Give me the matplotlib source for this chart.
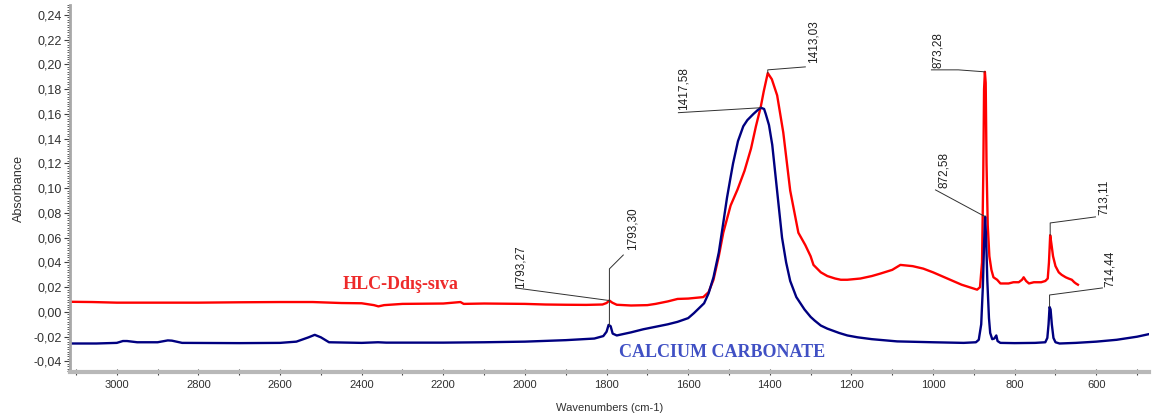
import numpy as np
import matplotlib
matplotlib.use('Agg')
import matplotlib.pyplot as plt
from matplotlib.ticker import MultipleLocator, FuncFormatter

# HLC-Ddis-siva sample (red)
wn_hlc = [3114, 3060, 3000, 2900, 2800, 2700, 2600, 2520, 2450, 2400, 2370, 2359, 2345,
          2300, 2200, 2158, 2150, 2100, 2000, 1950, 1900, 1850, 1810, 1800, 1793, 1786,
          1775, 1740, 1700, 1680, 1650, 1626, 1600, 1563, 1550, 1538, 1525, 1514, 1496,
          1479, 1462, 1446, 1434, 1422, 1415, 1405, 1395, 1382, 1367, 1350, 1330, 1313,
          1300, 1293, 1275, 1259, 1240, 1226, 1210, 1178, 1150, 1129, 1100, 1080, 1050,
          1024, 1000, 965, 930, 892, 885, 880, 877, 875, 873, 871, 869, 866, 862, 857,
          852, 843, 835, 815, 803, 790, 782, 778, 772, 765, 753, 735, 725, 719, 716, 713,
          710, 706, 700, 692, 685, 675, 668, 660, 654, 650, 645]
abs_hlc = [0.0082, 0.0080, 0.0075, 0.0075, 0.0075, 0.0078, 0.0080, 0.0080, 0.0072, 0.0070,
           0.0055, 0.0045, 0.0055, 0.0065, 0.0068, 0.0080, 0.0065, 0.0068, 0.0065, 0.0060,
           0.0058, 0.0057, 0.0060, 0.0072, 0.0092, 0.0075, 0.0058, 0.0052, 0.0055, 0.0065,
           0.0085, 0.0105, 0.0108, 0.0120, 0.0160, 0.0260, 0.0450, 0.0640, 0.0860, 0.0990,
           0.1140, 0.1320, 0.1500, 0.1660, 0.1780, 0.1930, 0.1880, 0.1750, 0.1450, 0.0980,
           0.0640, 0.0540, 0.0450, 0.0380, 0.0320, 0.0290, 0.0270, 0.0260, 0.0260, 0.0270,
           0.0290, 0.0310, 0.0340, 0.0380, 0.0370, 0.0350, 0.0320, 0.0270, 0.0220, 0.0180,
           0.0200, 0.0400, 0.1100, 0.1800, 0.1940, 0.1850, 0.1200, 0.0700, 0.0450, 0.0340,
           0.0280, 0.0260, 0.0230, 0.0230, 0.0240, 0.0240, 0.0260, 0.0280, 0.0250, 0.0230,
           0.0240, 0.0240, 0.0250, 0.0270, 0.0400, 0.0620, 0.0550, 0.0450, 0.0370, 0.0320,
           0.0300, 0.0280, 0.0270, 0.0260, 0.0240, 0.0230, 0.0220]

# calcium carbonate reference (navy)
wn_caco3 = [3114, 3050, 3000, 2985, 2975, 2950, 2900, 2875, 2865, 2840, 2700, 2600, 2560,
            2530, 2515, 2500, 2480, 2400, 2360, 2340, 2200, 2100, 2000, 1900, 1830, 1808,
            1800, 1795, 1790, 1785, 1775, 1740, 1710, 1680, 1650, 1626, 1600, 1586, 1561,
            1550, 1538, 1525, 1514, 1505, 1496, 1490, 1478, 1465, 1455, 1446, 1440, 1430,
            1422, 1414, 1410, 1402, 1394, 1386, 1378, 1370, 1360, 1350, 1335, 1315, 1300,
            1290, 1275, 1259, 1230, 1210, 1185, 1150, 1088, 1000, 925, 895, 888, 882, 878,
            875, 872.5, 870, 867, 863, 860, 855, 850, 845, 842, 835, 800, 750, 725, 720, 717,
            714.5, 712, 709, 705, 700, 690, 650, 600, 550, 500, 472]
abs_caco3 = [-0.0255, -0.0255, -0.0250, -0.0235, -0.0235, -0.0245, -0.0245, -0.0230, -0.0232,
             -0.0250, -0.0252, -0.0250, -0.0240, -0.0205, -0.0185, -0.0205, -0.0245, -0.0250,
             -0.0245, -0.0248, -0.0248, -0.0245, -0.0240, -0.0228, -0.0215, -0.0195, -0.0160,
             -0.0105, -0.0115, -0.0175, -0.0190, -0.0165, -0.0140, -0.0120, -0.0100, -0.0080,
             -0.0050, -0.0010, 0.0070, 0.0150, 0.0280, 0.0480, 0.0720, 0.0920, 0.1090, 0.1200,
             0.1380, 0.1500, 0.1550, 0.1580, 0.1600, 0.1630, 0.1650, 0.1640, 0.1600, 0.1510,
             0.1350, 0.1100, 0.0850, 0.0600, 0.0400, 0.0250, 0.0120, 0.0020, -0.0040, -0.0070,
             -0.0110, -0.0135, -0.0170, -0.0190, -0.0205, -0.0220, -0.0238, -0.0245, -0.0250,
             -0.0245, -0.0225, -0.0100, 0.0200, 0.0550, 0.0770, 0.0600, 0.0250, -0.0050,
             -0.0170, -0.0220, -0.0215, -0.0190, -0.0235, -0.0250, -0.0252, -0.0250, -0.0245,
             -0.0210, -0.0100, 0.0040, 0.0020, -0.0100, -0.0210, -0.0245, -0.0255, -0.0250,
             -0.0240, -0.0225, -0.0200, -0.0180]

# peak labels: text, series, peak position
peak_labels = ['1793,27', '1793,30', '1417,58', '1413,03', '873,28', '872,58', '713,11', '714,44']
peak_series = ['hlc', 'caco3', 'caco3', 'hlc', 'hlc', 'caco3', 'hlc', 'caco3']
peak_wn = [1793, 1793, 1422, 1405, 873, 872.5, 713, 714.5]

# leader line layout (data units): text anchor and optional knee
text_pos = [(2011, 0.0194), (1737, 0.050), (1611, 0.163), (1293, 0.201),
            (989, 0.197), (974, 0.100), (582, 0.078), (567, 0.020)]
line_start = [(2023, 0.0194), (1759, 0.046), (1624, 0.161), (1313, 0.198),
              (1004, 0.1956), (994, 0.0986), (602, 0.0768), (585, 0.0194)]
knee = [None, (1793, 0.0348), None, (1405, 0.1956), (938, 0.1956), None,
        (713, 0.0719), (714.5, 0.0137)]

fig = plt.figure(figsize=(11.52, 4.17), dpi=100)
ax = fig.add_axes([0.061, 0.108, 0.936, 0.880])

ax.plot(wn_hlc, abs_hlc, color='#ff0000', lw=1.7)
ax.plot(wn_caco3, abs_caco3, color='#000080', lw=1.7)

series = {'hlc': (wn_hlc, abs_hlc), 'caco3': (wn_caco3, abs_caco3)}
for i, lab in enumerate(peak_labels):
    xs, ys = series[peak_series[i]]
    py = np.interp(peak_wn[i], xs[::-1], ys[::-1])
    pts = [line_start[i]]
    if knee[i] is not None:
        pts.append(knee[i])
    pts.append((peak_wn[i], py))
    ax.plot([p[0] for p in pts], [p[1] for p in pts], color='#303030', lw=0.7)
    ax.text(text_pos[i][0], text_pos[i][1], lab, rotation=90, ha='center', va='bottom',
            fontsize=8.5, family='Liberation Sans', color='#202020')

ax.text(2305, 0.0218, 'HLC-Ddış-sıva', color='#ee2a2a', fontsize=13,
        family='Liberation Serif', fontweight='bold', ha='center', va='center')
ax.text(1516, -0.033, 'CALCIUM CARBONATE', color='#4050c4', fontsize=13,
        family='Liberation Serif', fontweight='bold', ha='center', va='center')

ax.set_xlim(3114, 472)
ax.set_ylim(-0.0485, 0.248)

ax.xaxis.set_major_locator(MultipleLocator(200))
ax.xaxis.set_minor_locator(MultipleLocator(100))
ax.yaxis.set_major_locator(MultipleLocator(0.02))
ax.yaxis.set_minor_locator(MultipleLocator(0.002))
ax.yaxis.set_major_formatter(FuncFormatter(lambda v, p: ('%.2f' % v).replace('.', ',')))

for s in ['top', 'right']:
    ax.spines[s].set_visible(False)
ax.spines['left'].set_color('#a8a8a8')
ax.spines['left'].set_linewidth(2)
ax.spines['bottom'].set_color('#b8b8b8')
ax.spines['bottom'].set_linewidth(3)

ax.tick_params(axis='y', which='major', length=4, width=0.8, color='#404040', pad=2,
               labelsize=9, labelcolor='#303030')
ax.tick_params(axis='y', which='minor', length=2, width=0.6, color='#404040')
ax.tick_params(axis='x', which='both', direction='inout', length=4, width=0.8,
               color='#404040', labelsize=8, labelcolor='#303030', pad=4)
for t in ax.get_xticklabels() + ax.get_yticklabels():
    t.set_family('Liberation Sans')

ax.set_xlabel('Wavenumbers (cm-1)', fontsize=8, family='Liberation Sans', color='#303030',
              labelpad=9)
ax.set_ylabel('Absorbance', fontsize=9, family='Liberation Sans', color='#303030',
              labelpad=6)

fig.savefig('out.png', dpi=100)
